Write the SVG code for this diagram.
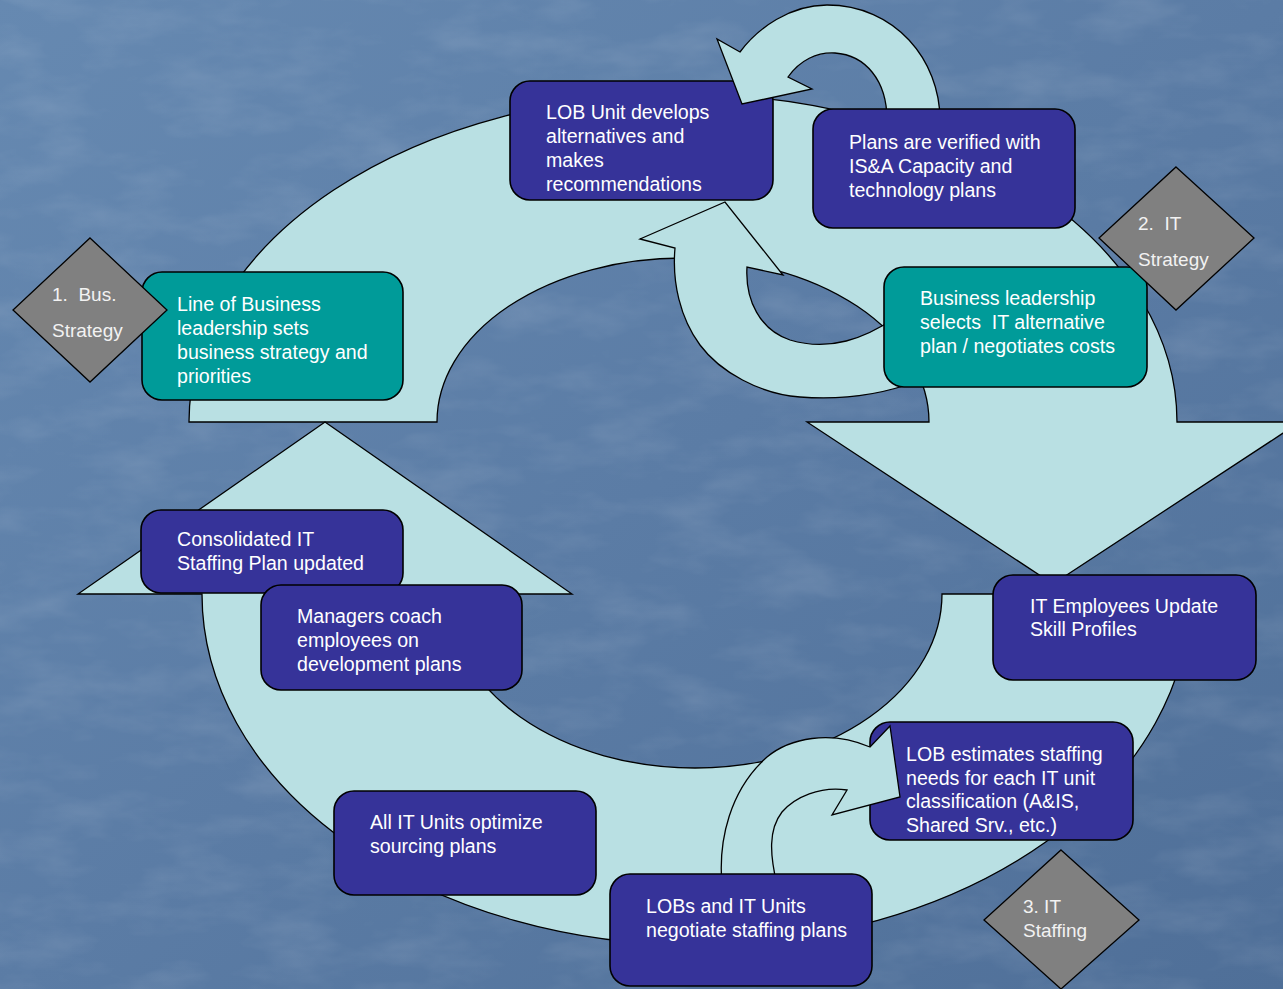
<svg xmlns="http://www.w3.org/2000/svg" width="1283" height="989" viewBox="0 0 1283 989">
<defs>
<linearGradient id="bg" x1="0" y1="0" x2="1" y2="1">
<stop offset="0" stop-color="#6689b1"/>
<stop offset="0.5" stop-color="#5b7ca5"/>
<stop offset="1" stop-color="#4f6f98"/>
</linearGradient>
<filter id="tex" x="0" y="0" width="100%" height="100%">
<feTurbulence type="fractalNoise" baseFrequency="0.012 0.03" numOctaves="4" seed="7" result="n"/>
<feColorMatrix type="matrix" values="0 0 0 0 1  0 0 0 0 1  0 0 0 0 1  0 0 0 0.9 -0.38" in="n"/>
</filter>
<style>
.arrow{fill:#b9e0e3;stroke:#000;stroke-width:1.3;stroke-linejoin:miter}
.box{stroke:#000;stroke-width:1.6}
.blue{fill:#363399}
.teal{fill:#009b99}
.dia{fill:#808080;stroke:#000;stroke-width:1.3}
.t{font-family:"Liberation Sans",Arial,sans-serif;font-size:19.6px;fill:#ffffff;white-space:pre}
.d{font-family:"Liberation Sans",Arial,sans-serif;font-size:19px;fill:#f2f2f2;white-space:pre}
</style>
</defs>
<rect width="1283" height="989" fill="url(#bg)"/>
<rect width="1283" height="989" filter="url(#tex)" opacity="0.22"/>

<g id="connectors">
<path class="arrow" d="M 189,422 A 494,328 0 0 1 1177,422 L 1300,422 L 1053,584 L 807,422 L 929,422 A 246,164 0 0 0 437,422 Z"/>
<path class="arrow" d="M 1190,594 A 494,351 0 0 1 202,594 L 78,594 L 325,422 L 572,594 L 448,594 A 247,174 0 0 0 942,594 Z"/>
<path class="arrow" d="M 915,382 C 880,395 840,400 800,397 C 760,394 720,372 700,345 C 680,318 672,282 675,248 L 640,239 L 725,202 L 783,275 L 747,267 C 745,300 760,330 790,340 C 830,352 865,338 895,318 Z"/>
</g>

<g id="node-lob-strategy">
<rect class="box teal" x="142" y="272" width="261" height="128" rx="20"/>
<text class="t"><tspan x="177" y="311">Line of Business</tspan><tspan x="177" y="335">leadership sets</tspan><tspan x="177" y="359">business strategy and</tspan><tspan x="177" y="383">priorities</tspan></text>
</g>
<g id="node-lob-unit">
<rect class="box blue" x="510" y="81" width="263" height="119" rx="20"/>
<text class="t"><tspan x="546" y="119">LOB Unit develops</tspan><tspan x="546" y="143">alternatives and</tspan><tspan x="546" y="167">makes</tspan><tspan x="546" y="191">recommendations</tspan></text>
</g>
<g id="node-business-selects">
<rect class="box teal" x="884" y="267" width="263" height="120" rx="20"/>
<text class="t" xml:space="preserve"><tspan x="920" y="305">Business leadership</tspan><tspan x="920" y="329">selects  IT alternative</tspan><tspan x="920" y="353">plan / negotiates costs</tspan></text>
</g>
<g id="node-consolidated">
<rect class="box blue" x="141" y="510" width="262" height="83" rx="20"/>
<text class="t"><tspan x="177" y="546">Consolidated IT</tspan><tspan x="177" y="570">Staffing Plan updated</tspan></text>
</g>
<g id="node-managers">
<rect class="box blue" x="261" y="585" width="261" height="105" rx="20"/>
<text class="t"><tspan x="297" y="623">Managers coach</tspan><tspan x="297" y="647">employees on</tspan><tspan x="297" y="671">development plans</tspan></text>
</g>
<g id="node-all-it">
<rect class="box blue" x="334" y="791" width="262" height="104" rx="20"/>
<text class="t"><tspan x="370" y="829">All IT Units optimize</tspan><tspan x="370" y="853">sourcing plans</tspan></text>
</g>
<g id="node-it-employees">
<rect class="box blue" x="993" y="575" width="263" height="105" rx="20"/>
<text class="t"><tspan x="1030" y="613">IT Employees Update</tspan><tspan x="1030" y="636">Skill Profiles</tspan></text>
</g>
<g id="node-lob-estimates">
<rect class="box blue" x="870" y="722" width="263" height="118" rx="20"/>
<text class="t"><tspan x="906" y="761">LOB estimates staffing</tspan><tspan x="906" y="785">needs for each IT unit</tspan><tspan x="906" y="808">classification (A&amp;IS,</tspan><tspan x="906" y="832">Shared Srv., etc.)</tspan></text>
</g>

<g id="connectors-overlay">
<path class="arrow" d="M 940,120 C 940,60 895,5 827,5 C 790,5 758,28 740,52 L 717,39 L 742,104 L 812,89 L 788,77 C 800,60 817,52 835,53 C 865,55 887,80 887,120 Z"/>
<path class="arrow" d="M 722,885 C 718,840 730,790 767,757 C 790,738 830,730 870,747 L 890,726 L 900,797 L 832,815 L 847,790 C 820,786 795,797 782,812 C 768,830 770,855 777,885 Z"/>
</g>

<g id="node-plans-verified">
<rect class="box blue" x="813" y="109" width="262" height="119" rx="20"/>
<text class="t"><tspan x="849" y="149">Plans are verified with</tspan><tspan x="849" y="173">IS&amp;A Capacity and</tspan><tspan x="849" y="197">technology plans</tspan></text>
</g>
<g id="node-lobs-negotiate">
<rect class="box blue" x="610" y="874" width="262" height="112" rx="20"/>
<text class="t"><tspan x="646" y="913">LOBs and IT Units</tspan><tspan x="646" y="937">negotiate staffing plans</tspan></text>
</g>

<g id="node-bus-strategy">
<polygon class="dia" points="90,238 167,310 90,382 13,310"/>
<text class="d" xml:space="preserve"><tspan x="52" y="301">1.  Bus.</tspan><tspan x="52" y="337">Strategy</tspan></text>
</g>
<g id="node-it-strategy">
<polygon class="dia" points="1176,167 1254,238 1176,310 1099,238"/>
<text class="d" xml:space="preserve"><tspan x="1138" y="230">2.  IT</tspan><tspan x="1138" y="266">Strategy</tspan></text>
</g>
<g id="node-it-staffing">
<polygon class="dia" points="1061,850 1139,920 1061,989 984,920"/>
<text class="d"><tspan x="1023" y="913">3. IT</tspan><tspan x="1023" y="937">Staffing</tspan></text>
</g>
</svg>
